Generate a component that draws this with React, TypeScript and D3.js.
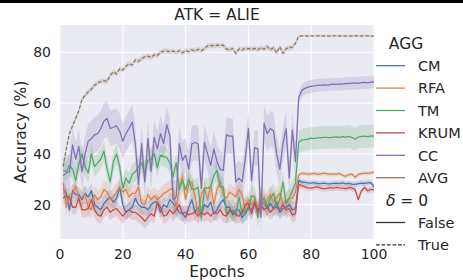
import * as d3 from "d3";
import { useEffect, useRef } from "react";

// epochs 1..100
const epochs = d3.range(1, 101);

const cm = [
  26.5, 24.5, 18, 25.5, 24, 24, 22, 24.5, 23, 25.5, 20, 19, 18, 20.5, 22, 23, 21, 22.5, 27, 20,
  17, 18, 19, 22.5, 20, 19, 19, 18, 20, 21, 21, 17, 20, 19, 22, 20.5, 19, 17, 16.5, 15,
  19, 22, 17, 19, 16, 20, 19, 21, 16.5, 18, 20.5, 22, 19, 19, 16, 18, 18, 15, 16.5, 19,
  18, 20, 18, 20, 21, 18.5, 20.5, 18.5, 21, 17, 18.5, 19, 20, 18, 18.5, 29.5, 29, 28.8, 28.6, 28.5,
  28.7, 28.4, 28.3, 28.5, 28.3, 28.2, 28.4, 28.5, 28.3, 28.6, 28.2, 28.4, 28.1, 28, 28.3, 28.5, 28.4, 28.6, 28.7, 27,
];
const rfa = [
  28.5, 19, 24, 24, 27.5, 22, 23, 24, 19, 18, 24, 22, 23, 26, 25, 22, 23, 25, 27, 25,
  26, 23, 24.5, 24.5, 27, 20.5, 20, 24, 22, 23.5, 22, 23, 24.5, 25, 26, 26.5, 18, 27, 31, 22,
  28, 29, 23, 16.5, 24, 26.5, 22, 27.5, 20, 26, 29, 24, 22.5, 25, 24, 23, 26, 24, 18, 22,
  20, 22, 19, 24.5, 20, 22, 24, 21, 23, 24.5, 20, 21.5, 22.5, 22.5, 25, 31.7, 32.4, 32.2, 32, 32.1,
  32.3, 32, 32.1, 32.4, 32.2, 31.9, 32.1, 32, 32.3, 31.6, 31.2, 31.8, 32, 30.8, 31.9, 32.2, 32.4, 32.3, 32.5, 32.8,
];
const tm = [
  33.5, 33, 35.5, 34, 29.5, 36, 40, 35, 32.5, 40, 35, 36.5, 38, 41, 34, 29, 37, 40, 35, 26.5,
  30.5, 28.5, 32, 33, 35, 36.5, 32, 37.5, 38, 40, 34.5, 39.5, 39, 38.5, 36.5, 31, 36.5, 26, 29.5, 26,
  30, 26, 26, 27, 15, 26.5, 26.5, 27, 31.5, 33.5, 27, 27, 16.5, 17, 18, 16, 23, 16.5, 18, 18,
  23.5, 23, 15, 21, 22.5, 19, 22.5, 24.5, 19, 22, 29, 20.5, 22.5, 25.5, 28.5, 44.5, 45.5, 45.6, 45.8, 46.2,
  46, 46.3, 46.4, 46.5, 46.5, 46.4, 46.6, 46.7, 46.5, 46.8, 46.6, 46.9, 46.4, 45.8, 46.6, 46.9, 47, 46.7, 47.1, 47,
];
const krum = [
  22.5, 23.5, 23, 19, 19, 22.5, 18, 18, 18.5, 22, 18, 16, 15.5, 18, 19, 17, 18, 18.5, 17, 15.5,
  17, 18, 17, 17, 16, 15, 13.5, 15, 16.5, 15.5, 21, 19, 15.5, 16, 18, 16.5, 18, 20, 16.5, 17,
  16, 16.5, 17, 15.5, 17, 16, 17, 15.5, 17, 16.5, 18, 16, 15.5, 18, 17, 16, 15.5, 17, 20, 20.5,
  16.5, 21, 17, 20, 18, 19, 17, 18.5, 19, 18, 20, 18, 18.5, 16, 16.5, 28, 27.5, 27, 26.6, 26.5,
  26.8, 27, 26.5, 26.3, 26.4, 26.7, 26.5, 26.8, 26.6, 26.5, 26.3, 26.7, 26.5, 26, 22, 25.5, 26.8, 25.5, 26, 25.8,
];
const cc = [
  31.5, 32.5, 33, 43.5, 38, 43, 33, 40, 45, 46, 47.5, 48, 50, 53, 54, 50, 50.5, 51, 49, 45,
  48, 50, 52.5, 44, 28, 44, 29, 46, 33, 46.5, 42, 48, 44, 51.5, 47, 22, 23, 44, 37.5, 39.5,
  34, 44, 44.5, 44, 26.5, 44.5, 40, 35.5, 42, 37, 34, 33.5, 47.5, 47, 47, 29, 30.5, 29, 38, 50,
  29.5, 42.5, 42, 15, 52, 48, 50, 49, 40, 34, 44, 50, 30.5, 49.5, 37, 62, 65, 65.8, 66.3, 66.6,
  66.8, 67, 67, 67.2, 67.1, 67.3, 67.5, 67.4, 67.6, 67.5, 67.8, 67.7, 67.9, 68, 67.8, 68.1, 68.2, 68, 68.3, 68.3,
];
const avg = [
  35, 42, 48, 51, 54, 57, 61.5, 63, 64.5, 65.5, 67, 68, 68.5, 68.8, 68.5, 71, 72.3, 71.5, 73.5, 73,
  74.5, 75.5, 75, 77, 76.5, 77.5, 78.3, 78.5, 78, 79, 78.7, 80, 80.5, 80.5, 80.3, 80.5, 80, 80.6, 79.8, 80.7,
  80.3, 81, 80.5, 81.2, 80.6, 81.5, 82.5, 82.7, 82.6, 82.8, 82.7, 82.8, 81.3, 81, 81.5, 79.6, 81.3, 81, 81.5, 81.4,
  81.2, 81.5, 81, 81.8, 81.2, 82.3, 81, 81.8, 79.8, 82.2, 79.6, 81.5, 81.8, 82, 83.5, 86.3, 86.5, 86.5, 86.4, 86.5,
  86.4, 86.5, 86.5, 86.4, 86.5, 86.4, 86.5, 86.5, 86.4, 86.5, 86.4, 86.5, 86.4, 86.5, 86.5, 86.4, 86.5, 86.5, 86.4, 86.4,
];

// confidence half-width before / after the jump at epoch 76
const ciBefore = [3, 3.5, 4, 3, 7, 1];
const ciAfter = [1, 0.8, 4.5, 1.2, 2.5, 0.4];

const aggNames = ["CM", "RFA", "TM", "KRUM", "CC", "AVG"];
const aggValues = [cm, rfa, tm, krum, cc, avg];
const aggColors = ["#4c72b0", "#dd8452", "#55a868", "#c44e52", "#8172b3", "#937860"];
const deltaNames = ["False", "True"];

const xTicks = [0, 20, 40, 60, 80, 100];
const yTicks = [20, 40, 60, 80];

const FONT = "'DejaVu Sans', sans-serif";
const INK = "#262626";

export default function App() {
  const ref = useRef<SVGSVGElement | null>(null);

  useEffect(() => {
    const el = ref.current;
    if (!el) return;
    const svg = d3.select(el);
    svg.selectAll("*").remove();

    const W = 463;
    const H = 280;
    const left = 60;
    const right = 374;
    const top = 25;
    const bottom = 239;

    const x = d3.scaleLinear().domain([0, 100]).range([left, right]);
    const y = d3.scaleLinear().domain([6.5, 90.75]).range([bottom, top]);

    svg.append("rect").attr("width", W).attr("height", H).attr("fill", "#fff");
    svg.append("rect").attr("width", W).attr("height", 3).attr("fill", "#000");

    svg
      .append("rect")
      .attr("x", left)
      .attr("y", top)
      .attr("width", right - left)
      .attr("height", bottom - top)
      .attr("fill", "#eaeaf2");

    const grid = svg.append("g").attr("stroke", "#fff").attr("stroke-width", 1);
    grid
      .selectAll("line.gx")
      .data(xTicks)
      .join("line")
      .attr("x1", (d) => x(d))
      .attr("x2", (d) => x(d))
      .attr("y1", top)
      .attr("y2", bottom);
    grid
      .selectAll("line.gy")
      .data(yTicks)
      .join("line")
      .attr("x1", left)
      .attr("x2", right)
      .attr("y1", (d) => y(d))
      .attr("y2", (d) => y(d));

    const plot = svg.append("g");
    const band = d3
      .area<[number, number, number]>()
      .x((d) => x(d[0]))
      .y0((d) => y(d[1] - d[2]))
      .y1((d) => y(d[1] + d[2]));
    const line = d3
      .line<[number, number]>()
      .x((d) => x(d[0]))
      .y((d) => y(d[1]));

    aggValues.forEach((vals, i) => {
      const pts = epochs.map((e, k) => [e, vals[k], e < 76 ? ciBefore[i] : ciAfter[i]] as [number, number, number]);
      plot
        .append("path")
        .datum(pts)
        .attr("fill", aggColors[i])
        .attr("fill-opacity", 0.2)
        .attr("d", band);
    });
    aggValues.forEach((vals, i) => {
      const pts = epochs.map((e, k) => [e, vals[k]] as [number, number]);
      plot
        .append("path")
        .datum(pts)
        .attr("fill", "none")
        .attr("stroke", aggColors[i])
        .attr("stroke-width", 1.3)
        .attr("stroke-linejoin", "round")
        .attr("stroke-dasharray", aggNames[i] === "AVG" ? "3.7,1.8" : null)
        .attr("d", line);
    });

    // tick labels
    svg
      .append("g")
      .selectAll("text")
      .data(xTicks)
      .join("text")
      .attr("x", (d) => x(d))
      .attr("y", 259)
      .attr("text-anchor", "middle")
      .attr("font-family", FONT)
      .attr("font-size", 14)
      .attr("fill", INK)
      .text((d) => d);
    svg
      .append("g")
      .selectAll("text")
      .data(yTicks)
      .join("text")
      .attr("x", 51)
      .attr("y", (d) => y(d))
      .attr("dy", "0.36em")
      .attr("text-anchor", "end")
      .attr("font-family", FONT)
      .attr("font-size", 14)
      .attr("fill", INK)
      .text((d) => d);

    svg
      .append("text")
      .attr("x", (left + right) / 2)
      .attr("y", 277)
      .attr("text-anchor", "middle")
      .attr("font-family", FONT)
      .attr("font-size", 15.5)
      .attr("fill", INK)
      .text("Epochs");
    svg
      .append("text")
      .attr("transform", `translate(26,${(top + bottom) / 2}) rotate(-90)`)
      .attr("text-anchor", "middle")
      .attr("font-family", FONT)
      .attr("font-size", 15.5)
      .attr("fill", INK)
      .text("Accuracy (%)");
    svg
      .append("text")
      .attr("x", (left + right) / 2)
      .attr("y", 20)
      .attr("text-anchor", "middle")
      .attr("font-family", FONT)
      .attr("font-size", 15.5)
      .attr("fill", INK)
      .text("ATK = ALIE");

    // legend
    const lg = svg.append("g").attr("font-family", FONT).attr("fill", INK);
    const rowH = 22.4;
    const row0 = 43.3;
    lg.append("text")
      .attr("x", 406)
      .attr("y", row0)
      .attr("dy", "0.36em")
      .attr("text-anchor", "middle")
      .attr("font-size", 15.5)
      .text("AGG");
    aggNames.forEach((name, i) => {
      const ry = row0 + rowH * (i + 1);
      lg.append("line")
        .attr("x1", 376)
        .attr("x2", 405)
        .attr("y1", ry)
        .attr("y2", ry)
        .attr("stroke", aggColors[i])
        .attr("stroke-width", 1.3);
      lg.append("text")
        .attr("x", 418)
        .attr("y", ry)
        .attr("dy", "0.36em")
        .attr("font-size", 14.5)
        .text(name);
    });
    const dRow = row0 + rowH * 7;
    const dt = lg
      .append("text")
      .attr("x", 407)
      .attr("y", dRow)
      .attr("dy", "0.36em")
      .attr("text-anchor", "middle")
      .attr("font-size", 15.5);
    dt.append("tspan").attr("font-style", "italic").text("δ");
    dt.append("tspan").text(" = 0");
    deltaNames.forEach((name, i) => {
      const ry = dRow + rowH * (i + 1);
      lg.append("line")
        .attr("x1", 376)
        .attr("x2", 405)
        .attr("y1", ry)
        .attr("y2", ry)
        .attr("stroke", "#333")
        .attr("stroke-width", 1.3)
        .attr("stroke-dasharray", i === 1 ? "3.7,1.8" : null);
      lg.append("text")
        .attr("x", 418)
        .attr("y", ry)
        .attr("dy", "0.36em")
        .attr("font-size", 14.5)
        .text(name);
    });
  }, []);

  return (
    <svg
      ref={ref}
      width={463}
      height={280}
      style={{ position: "absolute", left: 0, top: 0, display: "block" }}
    />
  );
}
